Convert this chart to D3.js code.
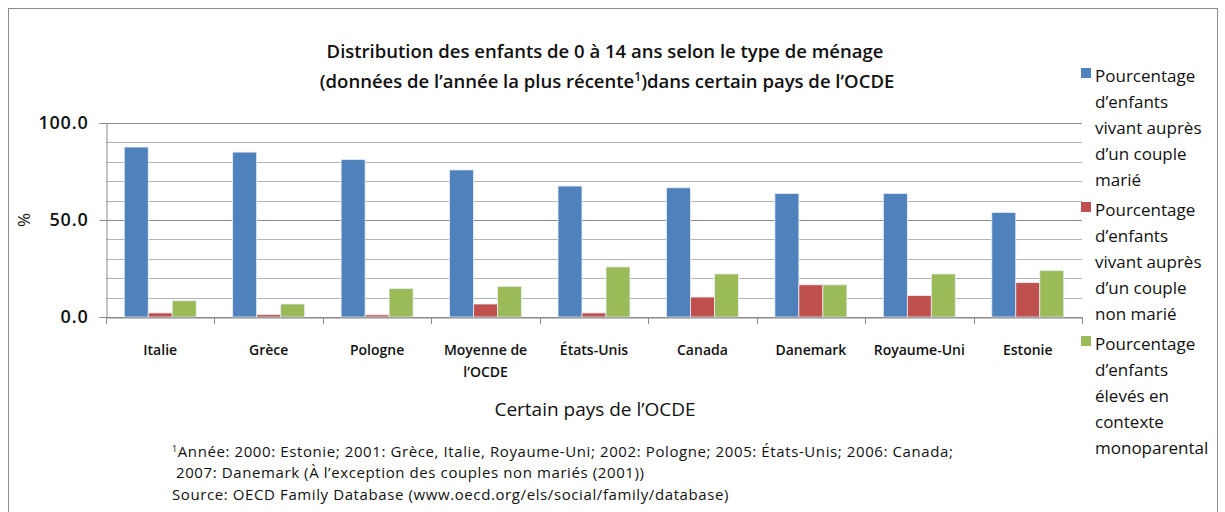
<!DOCTYPE html>
<html>
<head>
<meta charset="utf-8">
<script src="https://cdn.jsdelivr.net/npm/d3@7"></script>
<style>
  body { margin: 0; background: #fff; }
  svg { font-family: "Open Sans", Lato, sans-serif; }
</style>
</head>
<body>
<svg width="1225" height="512"></svg>
<script>
// données
var pays = ["Italie", "Grèce", "Pologne", "Moyenne de l’OCDE", "États-Unis", "Canada", "Danemark", "Royaume-Uni", "Estonie"];
var coupleMarie = [87.6, 85.0, 81.2, 75.8, 67.5, 66.6, 63.7, 63.7, 53.9];
var coupleNonMarie = [2.1, 1.2, 1.1, 6.7, 2.1, 10.3, 16.6, 11.1, 17.7];
var monoparental = [8.4, 6.7, 14.7, 15.8, 25.8, 22.2, 16.6, 22.2, 23.9];
var yTicks = [0, 50, 100];

var seriesNames = [
  ["Pourcentage", "d’enfants", "vivant auprès", "d’un couple", "marié"],
  ["Pourcentage", "d’enfants", "vivant auprès", "d’un couple", "non marié"],
  ["Pourcentage", "d’enfants", "élevés en", "contexte", "monoparental"]
];
var colors = ["#4f81bd", "#c0504d", "#9bbb59"];
var footnotes = [
  "Année: 2000: Estonie; 2001: Grèce, Italie, Royaume-Uni; 2002: Pologne; 2005: États-Unis; 2006: Canada;",
  "2007: Danemark (À l’exception des couples non mariés (2001))",
  "Source: OECD Family Database (www.oecd.org/els/social/family/database)"
];

var series = [coupleMarie, coupleNonMarie, monoparental];

var svg = d3.select("svg");

// cadre
svg.append("rect")
  .attr("x", 8.5).attr("y", 8.5)
  .attr("width", 1209).attr("height", 520)
  .attr("fill", "none").attr("stroke", "#8c8c8c");

var plotLeft = 106, plotRight = 1082, plotTop = 123, plotBottom = 317;

var x0 = d3.scaleBand().domain(pays).range([plotLeft, plotRight]);
var x1 = d3.scaleBand().domain([0, 1, 2]).range([0, x0.bandwidth()]).paddingOuter(0.76);
var y = d3.scaleLinear().domain([0, 100]).range([plotBottom, plotTop]);

// grille
svg.append("g")
  .selectAll("line")
  .data(d3.range(0, 101, 10))
  .enter().append("line")
  .attr("x1", plotLeft).attr("x2", plotRight)
  .attr("y1", function(d) { return Math.round(y(d)) + 0.5; })
  .attr("y2", function(d) { return Math.round(y(d)) + 0.5; })
  .attr("stroke", function(d) { return d % 50 === 0 ? "#8a8a8a" : "#b4b4b4"; })
  .attr("stroke-width", 1);

// barres
series.forEach(function(values, s) {
  svg.append("g")
    .selectAll("rect")
    .data(values)
    .enter().append("rect")
    .attr("x", function(d, i) { return x0(pays[i]) + x1(s); })
    .attr("y", function(d) { return y(d); })
    .attr("width", x1.bandwidth())
    .attr("height", function(d) { return plotBottom - y(d); })
    .attr("fill", colors[s])
    .attr("stroke", "#e8eef7")
    .attr("stroke-width", 0.8);
});

// axe y
var yAxis = svg.append("g")
  .attr("transform", "translate(" + (plotLeft + 0.5) + ",0)")
  .call(d3.axisLeft(y).tickValues(yTicks).tickSize(7).tickPadding(11).tickFormat(d3.format(".1f")));
yAxis.select(".domain").attr("stroke", "#8a8a8a");
yAxis.selectAll(".tick line").attr("stroke", "#8a8a8a");
yAxis.selectAll("text")
  .attr("font-size", 18).attr("font-weight", 600).attr("letter-spacing", 0.8).attr("fill", "#111")
  .attr("font-family", "Open Sans");

svg.append("text")
  .attr("transform", "translate(30," + y(50) + ") rotate(-90)")
  .attr("text-anchor", "middle")
  .attr("font-size", 17).attr("fill", "#111")
  .text("%");

// axe x
var xAxis = svg.append("g")
  .attr("transform", "translate(0," + (plotBottom + 0.5) + ")")
  .call(d3.axisBottom(x0).tickSize(0).tickFormat(""));
xAxis.select(".domain").attr("stroke", "#8a8a8a");

svg.append("g")
  .selectAll("line")
  .data(pays.concat(["fin"]))
  .enter().append("line")
  .attr("x1", function(d, i) { return Math.round(i < pays.length ? x0(d) : plotRight) + 0.5; })
  .attr("x2", function(d, i) { return Math.round(i < pays.length ? x0(d) : plotRight) + 0.5; })
  .attr("y1", plotBottom).attr("y2", plotBottom + 7)
  .attr("stroke", "#8a8a8a");

var labels = svg.append("g")
  .selectAll("text")
  .data(pays)
  .enter().append("text")
  .attr("x", function(d) { return x0(d) + x0.bandwidth() / 2; })
  .attr("y", 355)
  .attr("text-anchor", "middle")
  .attr("font-size", 14).attr("font-weight", 600).attr("fill", "#111");
labels.each(function(d) {
  var t = d3.select(this);
  var parts = d === "Moyenne de l’OCDE" ? ["Moyenne de", "l’OCDE"] : [d];
  parts.forEach(function(p, k) {
    t.append("tspan").attr("x", t.attr("x")).attr("dy", k === 0 ? 0 : 22).text(p);
  });
});

svg.append("text")
  .attr("x", 595).attr("y", 416)
  .attr("text-anchor", "middle")
  .attr("font-size", 19).attr("fill", "#111")
  .text("Certain pays de l’OCDE");

// titre
var title = svg.append("text")
  .attr("text-anchor", "middle")
  .attr("font-size", 18.5).attr("font-weight", 600).attr("fill", "#111");
title.append("tspan").attr("x", 605).attr("y", 58)
  .text("Distribution des enfants de 0 à 14 ans selon le type de ménage");
var l2 = title.append("tspan").attr("x", 607).attr("y", 88);
l2.append("tspan").text("(données de l’année la plus récente");
l2.append("tspan").attr("dy", -7).attr("font-size", 12).text("1");
l2.append("tspan").attr("dy", 7).text(")dans certain pays de l’OCDE");

// légende
var legend = svg.append("g");
seriesNames.forEach(function(lines, s) {
  var g = legend.append("g")
    .attr("transform", "translate(0," + (78 + s * 134) + ")");
  g.append("rect")
    .attr("x", 1081).attr("y", -10)
    .attr("width", 10).attr("height", 10)
    .attr("fill", colors[s]);
  lines.forEach(function(line, k) {
    g.append("text")
      .attr("x", 1095).attr("y", k * 26 + 4)
      .attr("font-size", 17).attr("fill", "#111")
      .text(line);
  });
});

// notes
var notes = svg.append("g")
  .attr("font-size", 15).attr("letter-spacing", 0.6).attr("fill", "#111");
var n1 = notes.append("text").attr("x", 172).attr("y", 457);
n1.append("tspan").attr("dy", -5).attr("font-size", 9).text("1");
n1.append("tspan").attr("dy", 5).text(footnotes[0]);
notes.append("text").attr("x", 176).attr("y", 478).text(footnotes[1]);
notes.append("text").attr("x", 172).attr("y", 500).text(footnotes[2]);
</script>
</body>
</html>
